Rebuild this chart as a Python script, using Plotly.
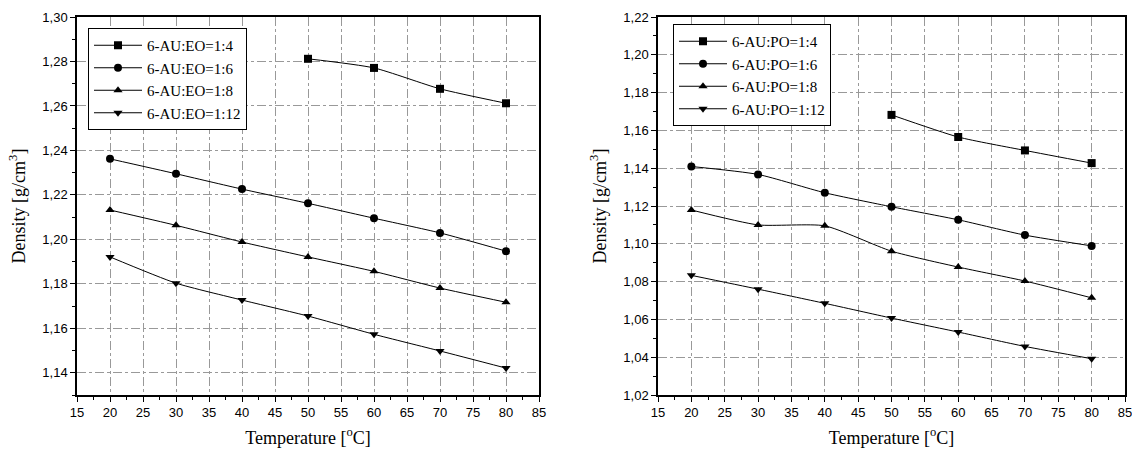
import plotly.graph_objects as go

temps_full = [20, 30, 40, 50, 60, 70, 80]
temps_14 = [50, 60, 70, 80]

# Left chart: 6-AU:EO
eo_labels = ["6-AU:EO=1:4", "6-AU:EO=1:6", "6-AU:EO=1:8", "6-AU:EO=1:12"]
eo_14 = [1.2812, 1.2771, 1.2677, 1.2612]
eo_16 = [1.2362, 1.2295, 1.2226, 1.2162, 1.2095, 1.2029, 1.1947]
eo_18 = [1.2132, 1.2063, 1.1988, 1.1921, 1.1856, 1.1781, 1.1717]
eo_112 = [1.1921, 1.1803, 1.1727, 1.1655, 1.1573, 1.1498, 1.1421]

# Right chart: 6-AU:PO
po_labels = ["6-AU:PO=1:4", "6-AU:PO=1:6", "6-AU:PO=1:8", "6-AU:PO=1:12"]
po_14 = [1.1682, 1.1565, 1.1494, 1.1427]
po_16 = [1.1409, 1.1367, 1.1270, 1.1196, 1.1127, 1.1046, 1.0989]
po_18 = [1.1179, 1.1100, 1.1095, 1.0961, 1.0877, 1.0803, 1.0714]
po_112 = [1.0833, 1.0760, 1.0685, 1.0607, 1.0533, 1.0457, 1.0392]

symbols = ["square", "circle", "triangle-up", "triangle-down"]

fig = go.Figure()

def add_series(xs, ys, name, sym, xa, ya, legend):
    fig.add_trace(go.Scatter(
        x=xs, y=ys, name=name, mode="lines+markers",
        line=dict(color="black", width=1, shape="spline", smoothing=0.6),
        marker=dict(symbol=sym, size=8, color="black"),
        xaxis=xa, yaxis=ya, legend=legend,
    ))

left = [(temps_14, eo_14), (temps_full, eo_16), (temps_full, eo_18), (temps_full, eo_112)]
right = [(temps_14, po_14), (temps_full, po_16), (temps_full, po_18), (temps_full, po_112)]
for (xs, ys), name, sym in zip(left, eo_labels, symbols):
    add_series(xs, ys, name, sym, "x", "y", "legend")
for (xs, ys), name, sym in zip(right, po_labels, symbols):
    add_series(xs, ys, name, sym, "x2", "y2", "legend2")

W, H = 1132, 450
ytop, ybot = 17, 395
ydom = [(H - ybot) / H, (H - ytop) / H]

tickfont = dict(family="Liberation Sans, Arial", size=13, color="black")
titlefont = dict(family="Liberation Serif, Times New Roman", size=18, color="black")

def xaxis(dom, anchor):
    return dict(
        domain=dom, anchor=anchor, range=[15, 85], dtick=5, tick0=15,
        automargin=False, ticklabeloverflow="allow",
        showline=True, linecolor="black", linewidth=1.5, mirror=True,
        ticks="outside", ticklen=5, tickcolor="black",
        minor=dict(dtick=2.5, ticks="outside", ticklen=3, tickcolor="black", showgrid=False),
        showgrid=True, gridcolor="#999999", gridwidth=1, griddash="dashdot",
        tickfont=tickfont, zeroline=False,
        title=dict(text="Temperature [<sup>o</sup>C]", font=titlefont, standoff=12),
    )

def yaxis(dom, anchor, rng):
    return dict(
        domain=dom, anchor=anchor, range=rng, dtick=0.02,
        automargin=False, ticklabeloverflow="allow",
        showline=True, linecolor="black", linewidth=1.5, mirror=True,
        ticks="outside", ticklen=5, tickcolor="black",
        minor=dict(dtick=0.01, ticks="outside", ticklen=3, tickcolor="black", showgrid=False),
        showgrid=True, gridcolor="#999999", gridwidth=1, griddash="dashdot",
        tickfont=tickfont, tickformat=".2f", zeroline=False,
        title=dict(text="Density [g/cm<sup>3</sup>]", font=titlefont, standoff=12),
    )

legfont = dict(family="Liberation Serif, Times New Roman", size=15, color="black")

fig.update_layout(
    width=W, height=H,
    margin=dict(l=0, r=0, t=0, b=0, autoexpand=False),
    paper_bgcolor="white", plot_bgcolor="white",
    separators=", ",
    xaxis=xaxis([77 / W, 539 / W], "y"),
    yaxis=yaxis(ydom, "x", [1.13, 1.30]),
    xaxis2=xaxis([658 / W, 1125 / W], "y2"),
    yaxis2=yaxis(ydom, "x2", [1.02, 1.22]),
    legend=dict(x=88 / W, y=1 - 28 / H, xanchor="left", yanchor="top",
                bgcolor="white", bordercolor="black", borderwidth=1,
                font=legfont, tracegroupgap=0, itemwidth=48),
    legend2=dict(x=673 / W, y=1 - 24 / H, xanchor="left", yanchor="top",
                 bgcolor="white", bordercolor="black", borderwidth=1,
                 font=legfont, tracegroupgap=0, itemwidth=48),
    showlegend=True,
)

fig.write_html("out.html")
